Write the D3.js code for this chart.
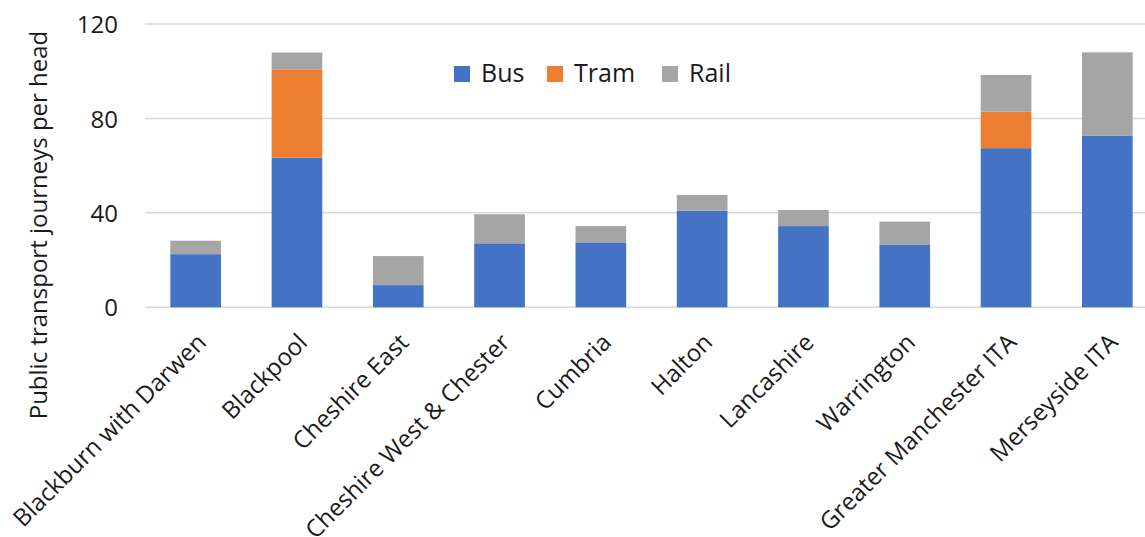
<!DOCTYPE html>
<html><head><meta charset="utf-8">
<script src="https://cdn.jsdelivr.net/npm/d3@7"></script>
<style>body{margin:0;background:#fff;}svg{display:block;font-family:"Open Sans",sans-serif;}</style>
</head><body>
<svg id="chart" width="1145" height="537"></svg>
<script>
const categories = ["Blackburn with Darwen","Blackpool","Cheshire East","Cheshire West & Chester","Cumbria","Halton","Lancashire","Warrington","Greater Manchester ITA","Merseyside ITA"];
const seriesNames = ["Bus","Tram","Rail"];
const bus  = [22.5, 63.4, 9.4, 27.1, 27.5, 40.9, 34.4, 26.4, 67.4, 72.6];
const tram = [0, 37.4, 0, 0, 0, 0, 0, 0, 15.5, 0];
const rail = [5.7, 7.1, 12.3, 12.3, 6.9, 6.7, 6.8, 9.9, 15.5, 35.4];
const yTicks = [0, 40, 80, 120];
const colors = ["#4472C4", "#ED7D31", "#A5A5A5"];

const svg = d3.select("#chart");
const x = d3.scaleBand().domain(categories).range([145, 1158]).paddingInner(0.5).paddingOuter(0.25);
const y = d3.scaleLinear().domain([0, 120]).range([307.3, 24]);

// gridlines
svg.append("g").selectAll("line").data(yTicks).join("line")
  .attr("x1", 145).attr("x2", 1158)
  .attr("y1", d => y(d)).attr("y2", d => y(d))
  .attr("stroke", "#D9D9D9").attr("stroke-width", 1.5);

// y axis
const yAxis = svg.append("g").attr("transform", "translate(118,0)")
  .call(d3.axisLeft(y).tickValues(yTicks).tickSize(0).tickPadding(0));
yAxis.select(".domain").remove();
yAxis.selectAll("text").attr("font-size", 24).attr("fill", "#1a1a1a")
  .attr("font-family", "Open Sans").attr("dy", "0.36em");

// stacked data
const rows = categories.map((c, i) => ({cat: c, Bus: bus[i], Tram: tram[i], Rail: rail[i]}));
const stack = d3.stack().keys(seriesNames)(rows);
svg.append("g").selectAll("g").data(stack).join("g")
  .attr("fill", (d, i) => colors[i])
  .selectAll("rect").data(d => d).join("rect")
  .attr("x", d => x(d.data.cat))
  .attr("width", x.bandwidth())
  .attr("y", d => y(d[1]))
  .attr("height", d => Math.max(0, y(d[0]) - y(d[1])));

// x axis labels
const xAxis = svg.append("g").attr("transform", "translate(0,318)")
  .call(d3.axisBottom(x).tickSize(0).tickPadding(0));
xAxis.select(".domain").remove();
xAxis.selectAll("text")
  .attr("font-size", 24).attr("fill", "#1a1a1a").attr("font-family", "Open Sans")
  .attr("text-anchor", "end").attr("dy", "0.7em").attr("dx", "0")
  .attr("transform", "translate(0,14) rotate(-45)");

// y title
svg.append("text")
  .attr("transform", "translate(47,225) rotate(-90)")
  .attr("text-anchor", "middle").attr("font-size", 24).attr("fill", "#1a1a1a")
  .text("Public transport journeys per head");

// legend
const legendX = [454, 547, 662];
const lg = svg.append("g").selectAll("g").data(seriesNames).join("g")
  .attr("transform", (d, i) => `translate(${legendX[i]},66)`);
lg.append("rect").attr("width", 16).attr("height", 16).attr("fill", (d, i) => colors[i]);
lg.append("text").attr("x", 27).attr("y", 16).attr("font-size", 25).attr("fill", "#1a1a1a").text(d => d);
</script>
</body></html>
